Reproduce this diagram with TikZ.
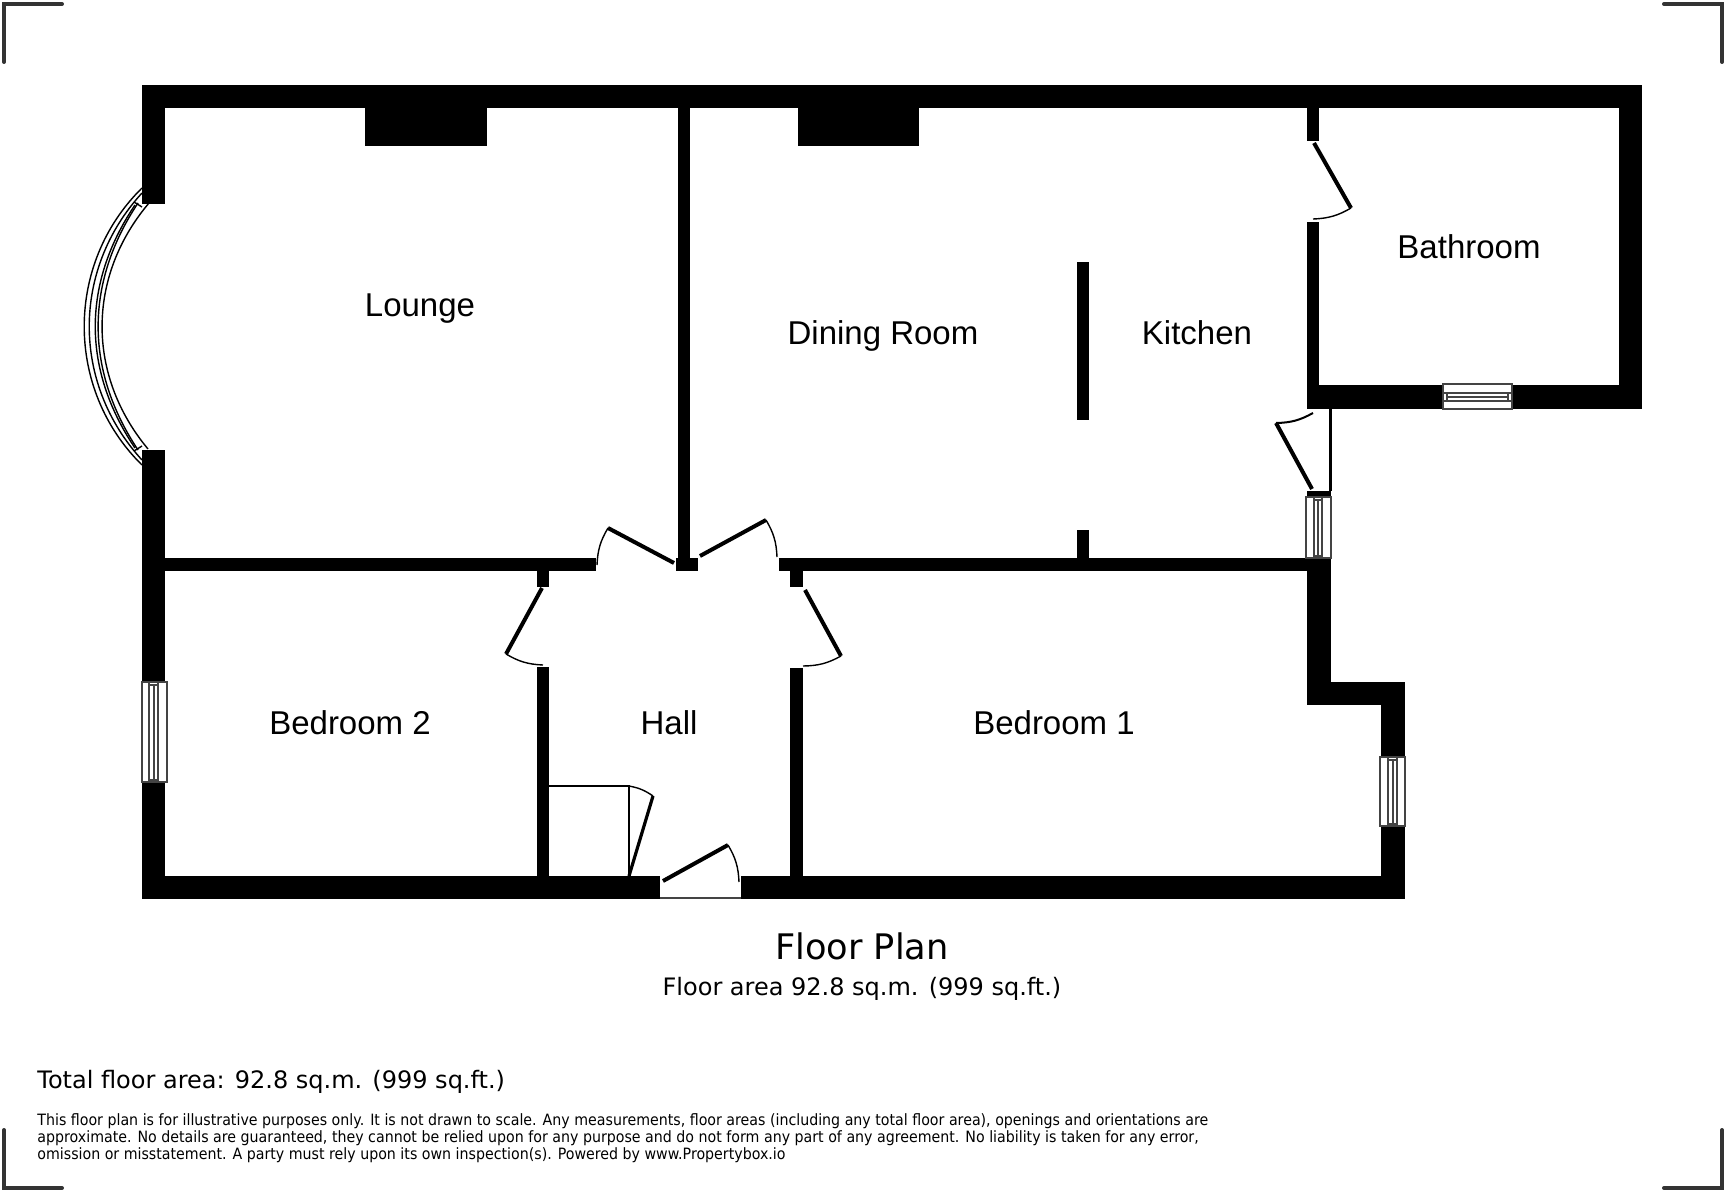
\documentclass[tikz,border=0pt]{standalone}
\usepackage{fontspec}
\setmainfont{Liberation Sans}
\newfontfamily\planfont{DejaVu Sans}
\newfontfamily\notefont[FakeStretch=0.91]{DejaVu Sans}
\definecolor{markgray}{HTML}{333333}
\definecolor{framegray}{HTML}{444444}
\tikzset{
  wall/.style={fill=black},
  leaf/.style={line width=2pt},
  swing/.style={line width=0.7pt},
  pane/.style={draw=framegray,fill=white,line width=0.7pt},
  glass/.style={draw=framegray,line width=0.55pt},
  bay/.style={line width=0.7pt},
  cropmark/.style={draw=markgray,line width=2pt,line cap=round},
  room/.style={inner sep=0pt,anchor=base,font=\fontsize{16.5}{18}\selectfont},
  note/.style={inner sep=0pt,anchor=base west,font=\notefont\fontsize{7.8}{9}\selectfont}
}
\begin{document}
\begin{tikzpicture}[x=0.5pt,y=-0.5pt]
  \useasboundingbox (0,0) rectangle (1728,1192);
  % crop marks
  \draw[cropmark] (4,62) -- (4,4) -- (62,4);
  \draw[cropmark] (1664,4) -- (1722,4) -- (1722,62);
  \draw[cropmark] (4,1130) -- (4,1188) -- (62,1188);
  \draw[cropmark] (1664,1188) -- (1722,1188) -- (1722,1130);
  % outer walls
  \fill[wall] (142,85) rectangle (1642,108.5);
  \fill[wall] (1619,85) rectangle (1642,409);
  \fill[wall] (1307,385) rectangle (1642,409);
  \fill[wall] (142,85) rectangle (165,204);
  \fill[wall] (142,450) rectangle (165,899);
  \fill[wall] (142,876) rectangle (660,899);
  \fill[wall] (741,876) rectangle (1405,899);
  \fill[wall] (1381,682) rectangle (1405,899);
  \fill[wall] (1307,682) rectangle (1405,705);
  \fill[wall] (1307,558) rectangle (1331,705);
  \fill[wall] (1307,491) rectangle (1331,497);
  \fill[wall] (1328.5,409) rectangle (1331.5,491);
  % inner walls
  \fill[wall] (678,108) rectangle (690,558);
  \fill[wall] (676,558) rectangle (698,571);
  \fill[wall] (165,558) rectangle (596,571);
  \fill[wall] (779,558) rectangle (1307,571);
  \fill[wall] (537,571) rectangle (549,587);
  \fill[wall] (537,667) rectangle (549,876);
  \fill[wall] (790,571) rectangle (803,587);
  \fill[wall] (790,668) rectangle (803,876);
  \fill[wall] (1307,108) rectangle (1319,141);
  \fill[wall] (1307,222) rectangle (1319,385);
  \fill[wall] (1077,262) rectangle (1089,420);
  \fill[wall] (1077,530) rectangle (1089,558);
  % chimney breasts
  \fill[wall] (365,108) rectangle (487,146);
  \fill[wall] (798,108) rectangle (919,146);
  % doors
  \draw[leaf] (674,563) -- (608,528);
  \draw[swing] (608,528) to[bend right=14] (597,565);
  \draw[leaf] (700,556) -- (766,520);
  \draw[swing] (766,520) to[bend left=14] (777,557);
  \draw[leaf] (542,588) -- (506,654);
  \draw[swing] (506,654) to[bend right=14] (543,665);
  \draw[leaf] (805,590) -- (841,656);
  \draw[swing] (841,656) to[bend left=14] (803,666);
  \draw[leaf] (1314,143) -- (1351,208);
  \draw[swing] (1351,208) to[bend left=14] (1313,219);
  \draw[leaf] (1312,489) -- (1276,423);
  \draw[swing,line width=1pt] (1276,423) to[bend right=14] (1313,413);
  \draw[leaf] (663,881) -- (728,845);
  \draw[swing] (728,845) to[bend left=14] (739,882);
  \draw[swing,framegray] (660,898) -- (741,898);
  % cupboard
  \draw[swing] (549,786) -- (629,786) -- (629,876);
  \draw[leaf,line width=1.6pt] (629,876) -- (653,796);
  \draw[swing] (629,786) to[bend left=12] (653,796);
  % bay window
  \draw[bay] (142,188) to[bend right=45.5] (142,465);
  \draw[bay] (142,193) to[bend right=42.5] (142,460);
  \draw[bay] (135,205) to[bend right=34] (135,448);
  \draw[bay] (138,203) to[bend right=33.5] (138,450);
  \draw[bay] (149,203) to[bend right=40] (148,449);
  \draw[bay] (134,202) -- (142,207);
  \draw[bay] (134,451) -- (142,446);
  % windows
  \foreach \xa/\ya/\xb/\yb/\xc/\xd/\xe/\yc/\yd in {
      142/682/167/782/149/154/158/685/780,
      1306/497/1331/558/1314/1318/1322/500/556,
      1380/757/1405/826/1388/1393/1397/760/824}{
    \draw[pane] (\xa,\ya) rectangle (\xb,\yb);
    \draw[glass] (\xc,\ya) -- (\xc,\yb);
    \draw[glass] (\xe,\ya) -- (\xe,\yb);
    \draw[glass] (\xd,\yc) -- (\xd,\yd);
    \draw[glass] (\xc,\yc) -- (\xe,\yc);
    \draw[glass] (\xc,\yd) -- (\xe,\yd);
  }
  \draw[pane] (1443,384) rectangle (1512,409);
  \draw[glass] (1443,393) -- (1512,393);
  \draw[glass] (1443,401) -- (1512,401);
  \draw[glass] (1447,397) -- (1508,397);
  \draw[glass] (1447,393) -- (1447,401);
  \draw[glass] (1508,393) -- (1508,401);
  % labels
  \node[room] (lounge) at (420,317) {Lounge};
  \node[room] (dining) at (883,345) {Dining Room};
  \node[room] (kitchen) at (1197,345) {Kitchen};
  \node[room] (bathroom) at (1469,259) {Bathroom};
  \node[room] (bedtwo) at (350,734) {Bedroom 2};
  \node[room] (hall) at (669,734) {Hall};
  \node[room] (bedone) at (1054,734) {Bedroom 1};
  \node[room,font=\planfont\fontsize{17.6}{20}\selectfont] (plan) at (862,959) {Floor Plan};
  \node[room,font=\planfont\fontsize{12}{14}\selectfont] (area) at (862,995) {Floor area 92.8 sq.m. (999 sq.ft.)};
  \node[note,font=\planfont\fontsize{12}{14}\selectfont] (total) at (37,1088) {Total floor area: 92.8 sq.m. (999 sq.ft.)};
  \node[note] (notea) at (37,1125) {This floor plan is for illustrative purposes only. It is not drawn to scale. Any measurements, floor areas (including any total floor area), openings and orientations are};
  \node[note] (noteb) at (37,1142) {approximate. No details are guaranteed, they cannot be relied upon for any purpose and do not form any part of any agreement. No liability is taken for any error,};
  \node[note] (notec) at (37,1159) {omission or misstatement. A party must rely upon its own inspection(s). Powered by www.Propertybox.io};
\end{tikzpicture}
\end{document}
